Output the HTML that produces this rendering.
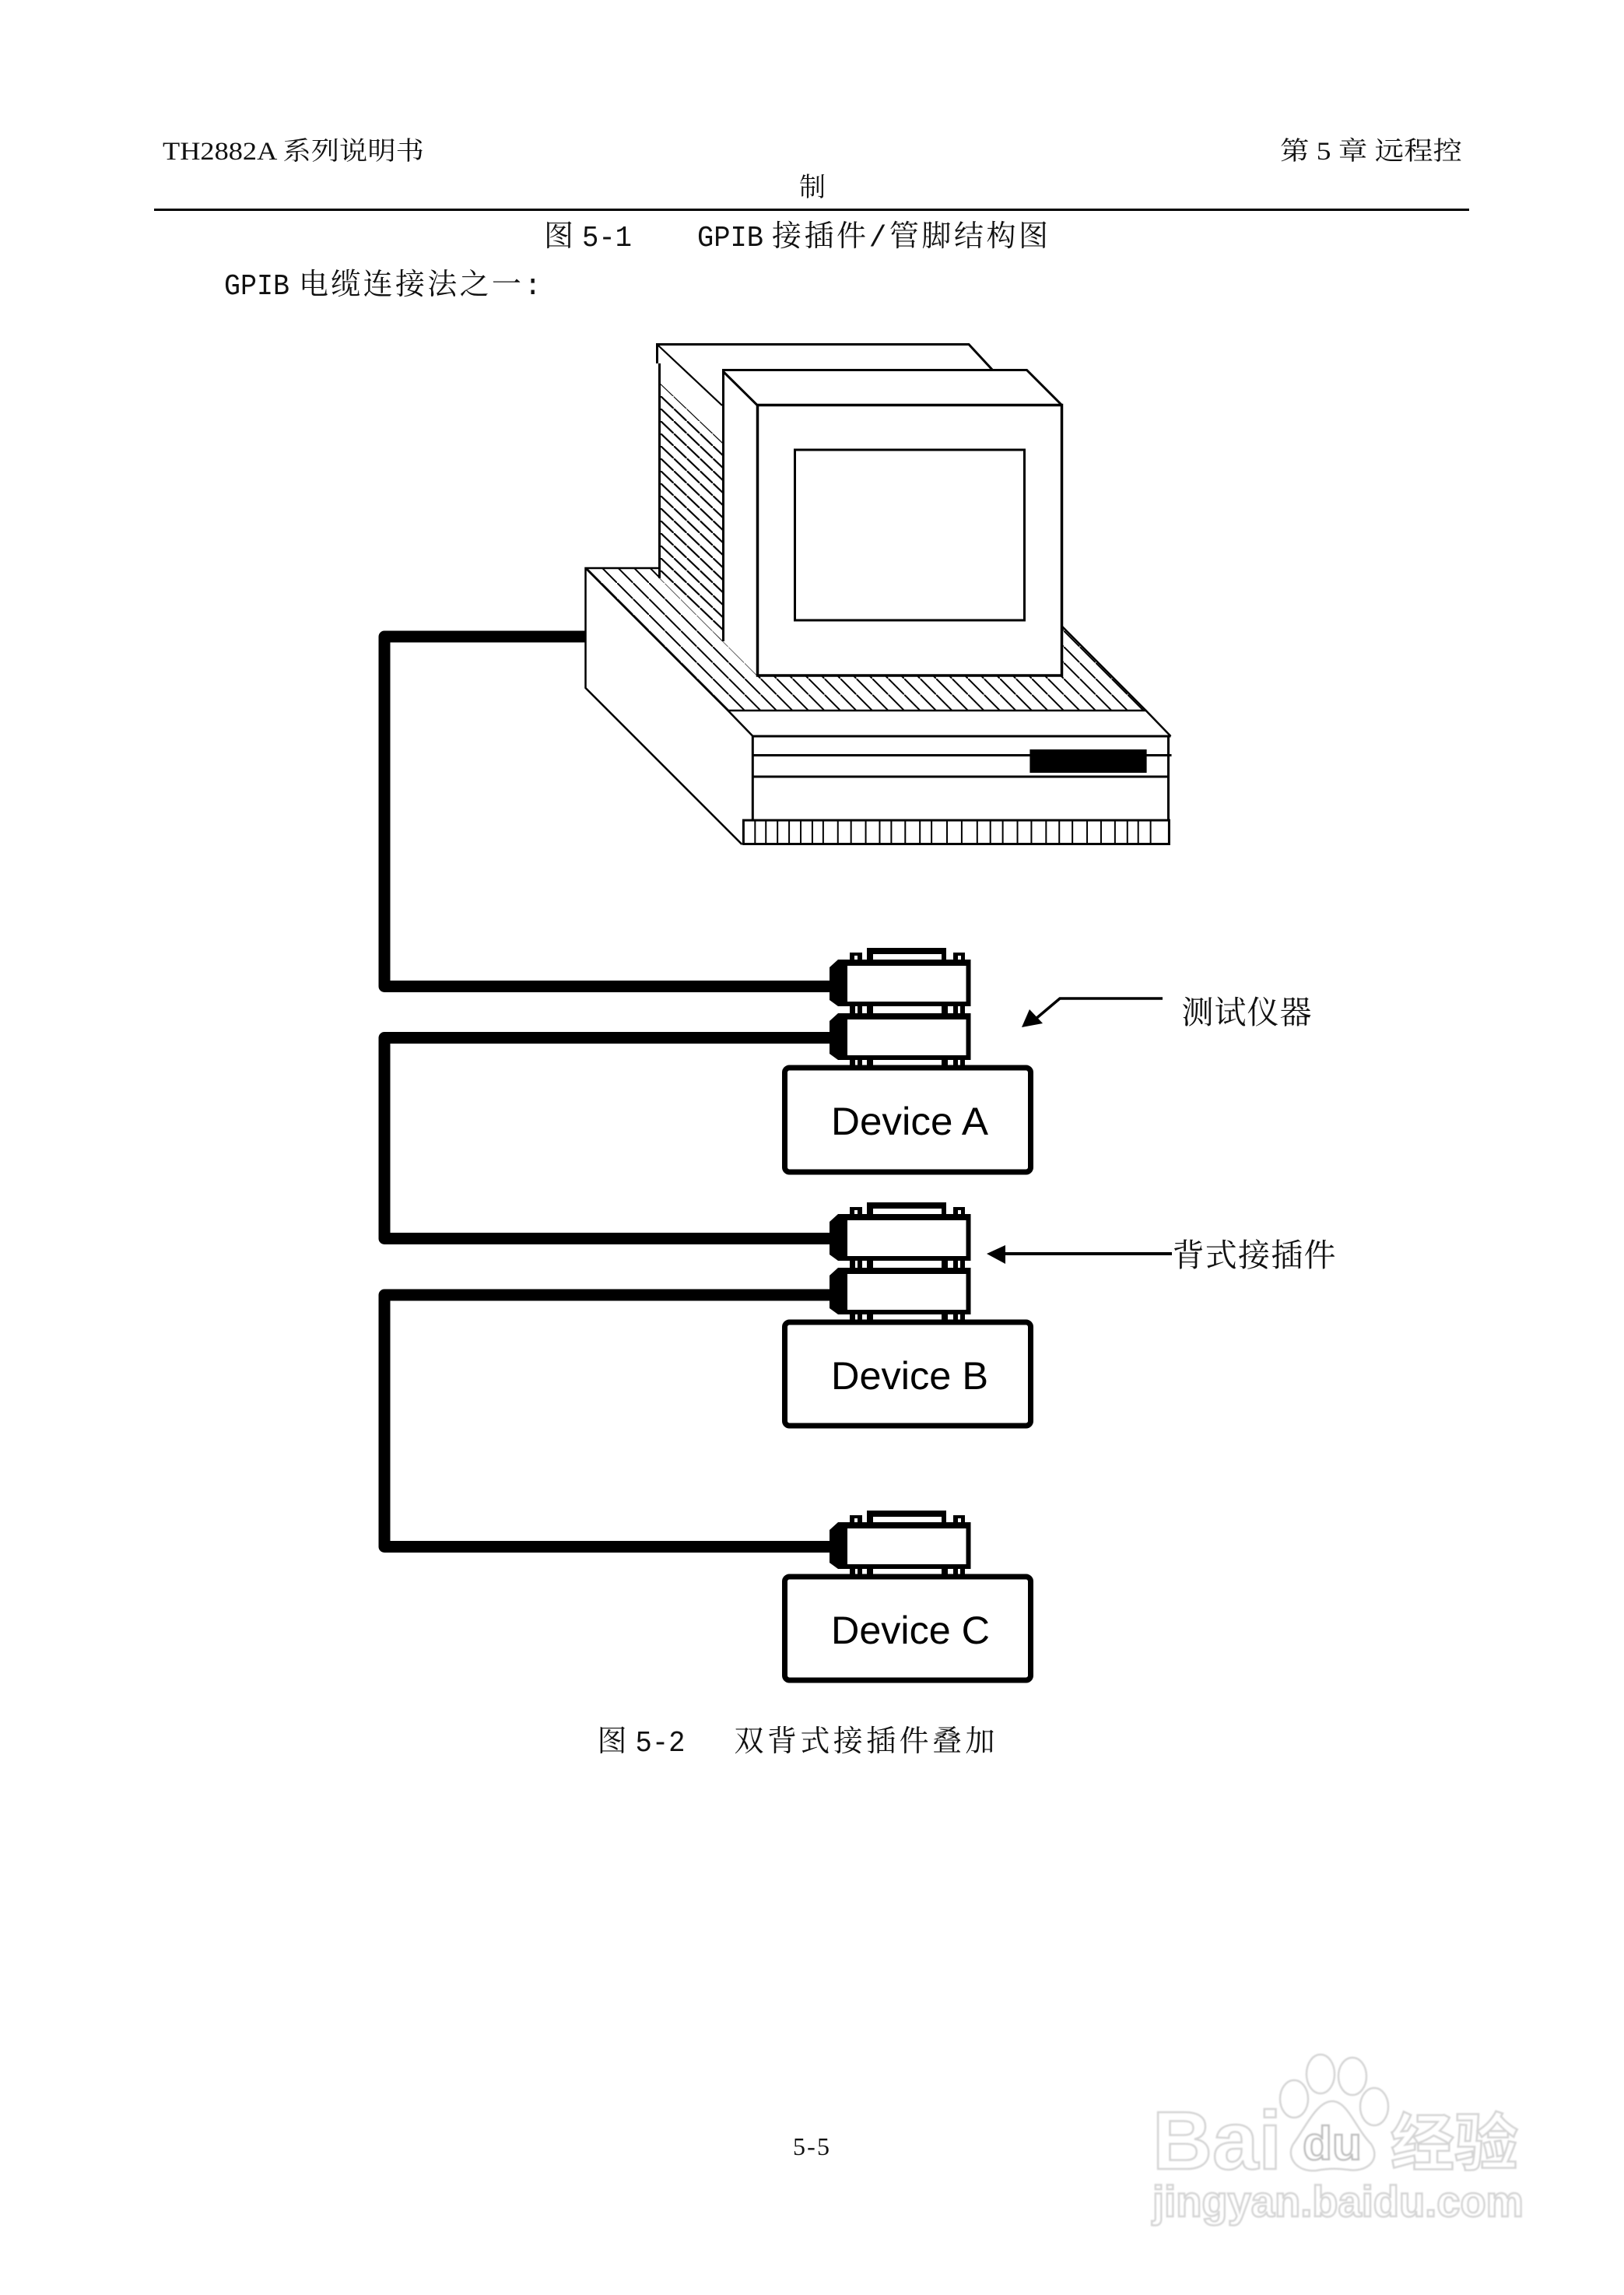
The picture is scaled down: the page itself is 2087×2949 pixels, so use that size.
<!DOCTYPE html>
<html><head><meta charset="utf-8"><style>
html,body{margin:0;padding:0;background:#fff;width:2087px;height:2949px;overflow:hidden}
svg{display:block}
.c{font-family:"Liberation Serif","Noto Serif CJK SC",serif;font-size:36px;fill:#111}
.m{font-family:"Liberation Mono","Noto Serif CJK SC",monospace;font-size:36px;fill:#111}
.d{font-family:"Liberation Sans",sans-serif;font-size:50px;fill:#000}
.w{font-family:"Liberation Sans","Noto Sans CJK SC",sans-serif;font-weight:bold;fill:#fff;stroke:#d4d4d4;stroke-width:2.5}
</style></head><body>
<svg width="2087" height="2949" viewBox="0 0 2087 2949" xmlns="http://www.w3.org/2000/svg">
<defs>
<pattern id="h" patternUnits="userSpaceOnUse" width="20.500" height="20.500" x="957" y="913">
<path d="M-2 -2L22.500 22.500" stroke="#000" stroke-width="2"/>
</pattern>
<pattern id="t" patternUnits="userSpaceOnUse" width="16.800" height="16" x="849" y="493">
<path d="M-2.100 -2L18.900 18" stroke="#000" stroke-width="2.200"/>
</pattern>
<filter id="b" x="-5%" y="-5%" width="110%" height="110%"><feGaussianBlur stdDeviation="0.9"/></filter>
<g id="body">
<path d="M1077 0H1247.500V60H1077L1066 52V10Z" fill="#000"/>
<rect x="1089" y="8" width="152.500" height="46" fill="#fff"/>
<path d="M1092 60h16v9h-16zM1114 60h8v9h-8zM1210 60h8v9h-8zM1225 60h15v9h-15z" fill="#000"/>
<path d="M1099 60h3v9h-3zM1231 60h3v9h-3z" fill="#fff"/>
</g>
<g id="upper">
<path d="M1114 -15H1216V0H1210V-7H1122V0H1114Z" fill="#000"/>
<path d="M1092 -9h16v9h-16zM1225 -9h15v9h-15z" fill="#000"/>
<path d="M1098 -5h4v5h-4zM1231 -5h4v5h-4z" fill="#fff"/>
<use href="#body"/>
</g>
</defs>
<rect width="2087" height="2949" fill="#fff"/>

<!-- header -->
<text class="c" x="209" y="205" style="font-size:33px" textLength="336" lengthAdjust="spacingAndGlyphs">TH2882A 系列说明书</text>
<text class="c" x="1645" y="205" style="font-size:33px" textLength="234" lengthAdjust="spacingAndGlyphs">第 5 章 远程控</text>
<text class="c" x="1027" y="252" style="font-size:34px">制</text>
<rect x="198" y="268" width="1690" height="3" fill="#000"/>

<text class="m" x="699" y="316" style="font-size:38px">图</text>
<text class="m" x="748" y="316" style="font-size:38px" textLength="64" lengthAdjust="spacingAndGlyphs">5-1</text>
<text class="m" x="896" y="316" style="font-size:38px" textLength="85" lengthAdjust="spacingAndGlyphs">GPIB</text>
<text class="m" x="992" y="316" style="font-size:38px" textLength="355" lengthAdjust="spacing">接插件/管脚结构图</text>
<text class="m" x="288" y="378" style="font-size:38px" textLength="84" lengthAdjust="spacingAndGlyphs">GPIB</text>
<text class="m" x="384" y="378" style="font-size:38px" textLength="312" lengthAdjust="spacing">电缆连接法之一:</text>

<!-- computer: tower -->
<g stroke="#000" fill="#fff" stroke-linejoin="miter">
<path d="M844 442H1245L1275 475H929V519L844 442Z" stroke="none"/>
<path d="M847.500 467V743" stroke-width="3" fill="none"/>
<path d="M844.500 467V442.500H1245L1276 476" stroke-width="3" fill="none"/>
<path d="M846 444L928 521" stroke-width="2.200" fill="none"/>
<polygon points="849,493 928,568 928,824 849,743" fill="url(#t)" stroke="none"/>
<!-- base -->
<polygon points="752,730 848,730 848,743 929,824 973,868 1364,868 1364,804 1472.600,913 936,913" fill="url(#h)" stroke="none"/>
<path d="M848 730H752.500V884L953.500 1085" stroke-width="2.500" fill="none"/>
<path d="M752.500 730L935.500 913L967.500 946" stroke-width="2.500" fill="none"/>
<path d="M935.500 913H1472.600L1504.500 946" stroke-width="2.500" fill="none"/>
<path d="M1364 804L1472.600 913" stroke-width="2.500" fill="none"/>
<!-- monitor -->
<path d="M929 475H1319.500L1364 520V868H973.500L929 824Z" stroke="none"/>
<path d="M929.500 824V475.500H1319.500L1364 520M930 478L973.500 521" stroke-width="3" fill="none"/>
<rect x="973.500" y="520.500" width="391" height="347.500" stroke-width="3.500" fill="#fff"/>
<rect x="1021.500" y="578" width="295" height="219" stroke-width="3" fill="#fff"/>
<!-- front -->
<path d="M967.300 946H1504.500M967.300 946V1054M1501.500 946V1084M967.300 970.500H1505.500M967.300 998H1501.500" stroke-width="3" fill="none"/>
<rect x="1323.400" y="963" width="150.200" height="30" fill="#000" stroke="none"/>
<rect x="955.400" y="1054" width="547" height="30.500" stroke-width="3" fill="#fff"/>
<path transform="translate(4.470 0) scale(.9947 1)" d="M971 1054v31M985 1054v31M1000 1054v31M1015 1054v31M1030 1054v31M1045 1054v31M1059 1054v31M1078 1054v31M1095 1054v31M1114 1054v31M1132 1054v31M1147 1054v31M1165 1054v31M1184 1054v31M1199 1054v31M1219 1054v31M1238 1054v31M1258 1054v31M1275 1054v31M1291 1054v31M1310 1054v31M1328 1054v31M1347 1054v31M1364 1054v31M1381 1054v31M1400 1054v31M1418 1054v31M1436 1054v31M1452 1054v31M1466 1054v31M1482 1054v31" stroke-width="2" fill="none"/>
</g>

<!-- cables -->
<g fill="none" stroke="#000" stroke-width="15" stroke-linejoin="round">
<path d="M752 818H494V1267.500H1070"/>
<path d="M1070 1333.500H494V1591.500H1070"/>
<path d="M1070 1664H494V1987.500H1070"/>
</g>

<!-- connectors -->
<use href="#upper" y="1233"/>
<use href="#body" y="1302"/>
<use href="#upper" y="1560"/>
<use href="#body" y="1629"/>
<use href="#upper" y="1956"/>

<!-- devices -->
<g fill="#fff" stroke="#000" stroke-width="7">
<rect x="1008.500" y="1372" width="316" height="134" rx="6"/>
<rect x="1008.500" y="1699" width="316" height="133" rx="6"/>
<rect x="1008.500" y="2026" width="316" height="133" rx="6"/>
</g>
<text class="d" x="1068" y="1458" textLength="202" lengthAdjust="spacingAndGlyphs">Device A</text>
<text class="d" x="1068" y="1785" textLength="202" lengthAdjust="spacingAndGlyphs">Device B</text>
<text class="d" x="1068" y="2112" textLength="204" lengthAdjust="spacingAndGlyphs">Device C</text>

<!-- arrows and labels -->
<path d="M1494 1283H1362L1330 1310" fill="none" stroke="#000" stroke-width="3.500"/>
<polygon points="1313,1320 1323,1297 1340,1315" fill="#000"/>
<path d="M1506 1611H1288" fill="none" stroke="#000" stroke-width="4"/>
<polygon points="1268,1611 1292,1600 1292,1624" fill="#000"/>
<text class="c" x="1518.500" y="1315" style="font-size:41px" textLength="167" lengthAdjust="spacing">测试仪器</text>
<text class="c" x="1506.500" y="1627" style="font-size:41px" textLength="210" lengthAdjust="spacing">背式接插件</text>

<!-- caption -->
<text class="m" x="767.500" y="2250" style="font-size:38px">图</text>
<text class="m" x="816.500" y="2250" style="font-size:38px" textLength="64" lengthAdjust="spacingAndGlyphs">5-2</text>
<text class="m" x="943.500" y="2250" style="font-size:38px" textLength="335" lengthAdjust="spacing">双背式接插件叠加</text>
<text class="c" x="1019" y="2769" style="font-size:32px" textLength="47" lengthAdjust="spacing">5-5</text>

<!-- watermark -->
<g filter="url(#b)" transform="translate(-3 0)">
<g fill="#fff" stroke="#d4d4d4" stroke-width="2.500">
<ellipse cx="1700" cy="2665" rx="18" ry="25"/>
<ellipse cx="1741" cy="2668" rx="18" ry="24"/>
<ellipse cx="1666" cy="2697" rx="18" ry="24"/>
<ellipse cx="1769" cy="2707" rx="18" ry="24"/>
<path d="M1715 2700C1735 2700 1745 2735 1765 2755C1778 2775 1760 2792 1735 2788C1722 2786 1710 2786 1695 2789C1670 2792 1655 2772 1665 2755C1680 2735 1695 2700 1715 2700Z"/>
</g>
<text class="w" x="1484" y="2787" style="font-size:106px" textLength="166" lengthAdjust="spacingAndGlyphs">Bai</text>
<text class="w" x="1677" y="2775" style="font-size:60px;fill:#fff;stroke:#c0c0c0" textLength="76" lengthAdjust="spacingAndGlyphs">du</text>
<text class="w" x="1790" y="2782" style="font-size:80px" textLength="164" lengthAdjust="spacingAndGlyphs">经验</text>
<text class="w" x="1484" y="2848" style="font-size:56px" textLength="477" lengthAdjust="spacingAndGlyphs">jingyan.baidu.com</text>
</g>
</svg>
</body></html>
